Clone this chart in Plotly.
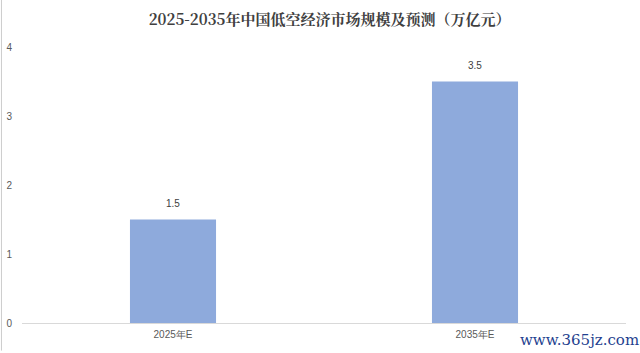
import plotly.graph_objects as go

categories = ["2025年E", "2035年E"]
values = [1.5, 3.5]
value_labels = ["1.5", "3.5"]
y_ticks = [0, 1, 2, 3, 4]

fig = go.Figure()
fig.add_trace(go.Bar(
    x=categories, y=values,
    marker=dict(color="#8eaadc", line=dict(width=0)),
    width=0.285,
))

annotations = [dict(x=c, y=v, text=t, showarrow=False, yanchor="bottom", yshift=9,
                    font=dict(size=10, color="#404040", family="Liberation Sans, Arial"))
               for c, v, t in zip(categories, values, value_labels)]
annotations.append(dict(text="www.365jz.com", xref="paper", yref="paper",
                        x=1.025, y=-0.06, xanchor="right", yanchor="middle", showarrow=False,
                        font=dict(size=15, color="#1f3f8f", family="DejaVu Serif, serif")))

fig.update_layout(
    width=640, height=353,
    margin=dict(l=22, r=14, t=47, b=30),
    paper_bgcolor="white", plot_bgcolor="white",
    showlegend=False,
    title=dict(text="<b>2025-2035年中国低空经济市场规模及预测（万亿元）</b>",
               x=0.515, xanchor="center", y=0.945, yanchor="middle",
               font=dict(size=15, color="#404040", family="Noto Serif CJK SC, Noto Sans CJK SC, serif")),
    xaxis=dict(showgrid=False, showline=False, ticks="", ticklabelstandoff=4, automargin=False,
               tickfont=dict(size=10, color="#595959", family="Liberation Sans, Arial")),
    yaxis=dict(range=[0, 4], tickvals=y_ticks, showgrid=False, zeroline=True,
               zerolinecolor="#d9d9d9", zerolinewidth=1, showline=False,
               ticklabelstandoff=9, automargin=False,
               tickfont=dict(size=10, color="#595959", family="Liberation Sans, Arial")),
    annotations=annotations,
    shapes=[dict(type="line", xref="paper", yref="paper", x0=-0.034, x1=-0.034, y0=-0.1, y1=1.2,
                 line=dict(color="#cccccc", width=1))],
)

fig.write_html("out.html")
